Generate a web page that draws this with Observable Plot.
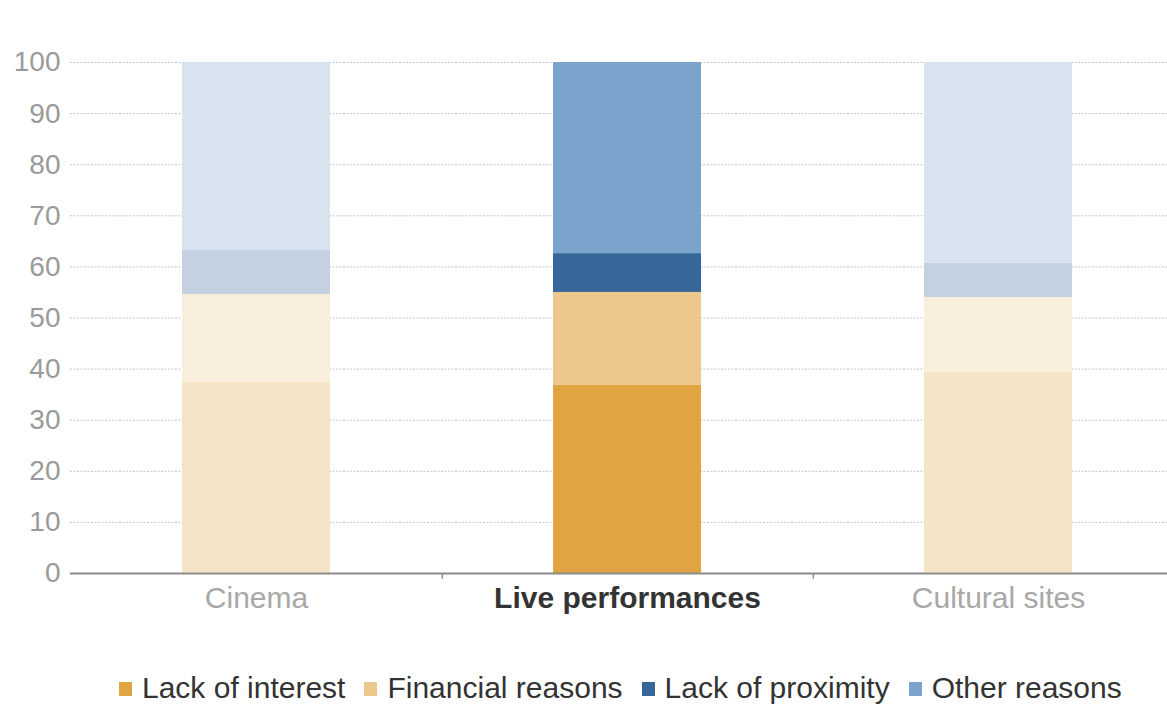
<!DOCTYPE html>
<html>
<head>
<meta charset="utf-8">
<script src="https://cdn.jsdelivr.net/npm/d3@7"></script>
<script src="https://cdn.jsdelivr.net/npm/@observablehq/plot@0.6"></script>
<style>
  html, body { margin: 0; padding: 0; background: #fff; overflow: hidden; width: 1167px; height: 706px; }
  #chart { position: relative; width: 1167px; height: 620px; overflow: hidden; }
  #chart svg { max-width: none !important; }
  #legend { display: flex; align-items: center; margin-top: 51px; padding-left: 119px;
    font-family: "Liberation Sans", Arial, sans-serif; font-size: 30px; color: #333; white-space: nowrap; }
  .item { display: flex; align-items: center; margin-right: 19px; }
  .sw { width: 13px; height: 14px; margin-right: 10px; margin-top: 2px; }
</style>
</head>
<body>
<div id="chart"></div>
<div id="legend"></div>
<script>
const categories = ["Cinema", "Live performances", "Cultural sites"];
const series = ["Lack of interest", "Financial reasons", "Lack of proximity", "Other reasons"];
const lackOfInterest = [37.4, 36.8, 39.3];
const financialReasons = [17.2, 18.2, 14.7];
const lackOfProximity = [8.6, 7.6, 6.7];
const otherReasons = [36.8, 37.4, 39.3];
const seriesColors = ["#E0A443", "#ECC88D", "#376799", "#7CA3CB"];
const highlighted = "Live performances";
const yTicks = [0, 10, 20, 30, 40, 50, 60, 70, 80, 90, 100];

const values = [lackOfInterest, financialReasons, lackOfProximity, otherReasons];
const rows = [];
categories.forEach((c, i) => {
  series.forEach((s, j) => {
    const full = seriesColors[j];
    const fill = c === highlighted ? full : d3.interpolateRgb(full, "#ffffff")(0.7);
    rows.push({category: c, series: s, value: values[j][i], fill});
  });
});

const font = "Liberation Sans, Arial, sans-serif";
const chart = Plot.plot({
  width: 1185,
  height: 620,
  marginLeft: 70,
  marginRight: 0,
  marginTop: 62,
  marginBottom: 47,
  style: {fontFamily: font, background: "#fff", maxWidth: "none"},
  x: {domain: categories, paddingInner: 0.6, paddingOuter: 0.3, axis: null},
  y: {domain: [0, 100], axis: null},
  marks: [
    Plot.gridY(yTicks.filter(d => d > 0), {stroke: "#c4c4c4", strokeOpacity: 1, strokeDasharray: "2,1.5", strokeWidth: 1}),
    Plot.axisY(yTicks, {tickSize: 0, tickPadding: 10, fontSize: 28, fill: "#9a9a9a", label: null}),
    Plot.barY(rows, {x: "category", y: "value", fill: d => d.fill, order: series, inset: 0}),
    Plot.ruleY([0], {stroke: "#8c8c8c", strokeWidth: 2}),
    Plot.ruleX(categories.slice(0, 2), {x: d => d, dx: 185.8, y1: 0, y2: -1.1, stroke: "#8c8c8c", strokeWidth: 1.5}),
    Plot.text(categories.filter(c => c !== highlighted), {x: d => d, y: 0, dy: 25, text: d => d, fontSize: 30, fill: "#a8a8a8", lineAnchor: "middle"}),
    Plot.text([highlighted], {x: d => d, y: 0, dy: 25, text: d => d, fontSize: 30, fontWeight: "bold", fill: "#333", lineAnchor: "middle"})
  ]
});
document.getElementById("chart").appendChild(chart);

const legend = document.getElementById("legend");
series.forEach((s, j) => {
  const item = document.createElement("div");
  item.className = "item";
  const sw = document.createElement("span");
  sw.className = "sw";
  sw.style.background = seriesColors[j];
  const label = document.createElement("span");
  label.textContent = s;
  item.appendChild(sw);
  item.appendChild(label);
  legend.appendChild(item);
});
</script>
</body>
</html>
